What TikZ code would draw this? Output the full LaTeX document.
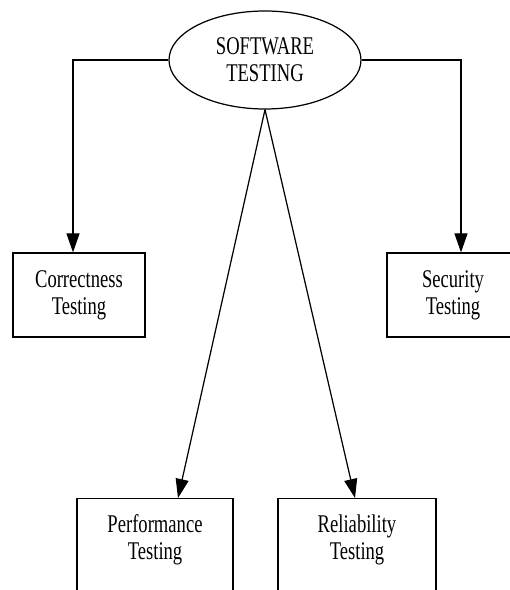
\documentclass[tikz,border=0pt]{standalone}
\usepackage{fontspec}
\setmainfont[FakeStretch=0.73]{Liberation Serif}
\usepackage{tikz}
\usetikzlibrary{shapes.geometric, arrows.meta, positioning, calc}

\begin{document}
\begin{tikzpicture}[
        box/.style={draw, line width=0.7pt, minimum width=2.64cm, minimum height=1.68cm, inner sep=0pt},
        txt/.style={align=center, font=\fontsize{14.5}{15.5}\selectfont},
        arr/.style={line width=0.7pt, -{Triangle[width=0.26cm, length=0.38cm]}}
    ]
                \useasboundingbox (0,0) rectangle (10.2,11.8);
                \node[ellipse, draw, line width=0.7pt, minimum width=3.84cm, minimum height=1.96cm, inner sep=0pt, txt] (soft) at (5.3,10.6) {SOFTWARE\\TESTING};
                \node[box, txt] (corr) at (1.58,5.9) {Correctness\\Testing};
                \node[box, txt] (secu) at (9.06,5.9) {Security\\Testing};
                % bottom boxes run past the lower edge
                \node[box, minimum width=3.12cm, minimum height=2.2cm, anchor=north] (perf) at (3.1,1.84) {};
                \node[txt] (perftxt) at (3.1,1.0) {Performance\\Testing};
                \node[box, minimum width=3.16cm, minimum height=2.2cm, anchor=north] (reli) at (7.14,1.84) {};
                \node[txt] (relitxt) at (7.14,1.0) {Reliability\\Testing};
                \draw[arr] (soft.west) -| ([xshift=-0.12cm]corr.north);
                \draw[arr] (soft.east) -| ([xshift=0.16cm]secu.north);
                \draw[arr] (soft.south) -- ([xshift=0.46cm]perf.north);
                \draw[arr] (soft.south) -- ([xshift=-0.04cm]reli.north);
            \end{tikzpicture}
\end{document}
